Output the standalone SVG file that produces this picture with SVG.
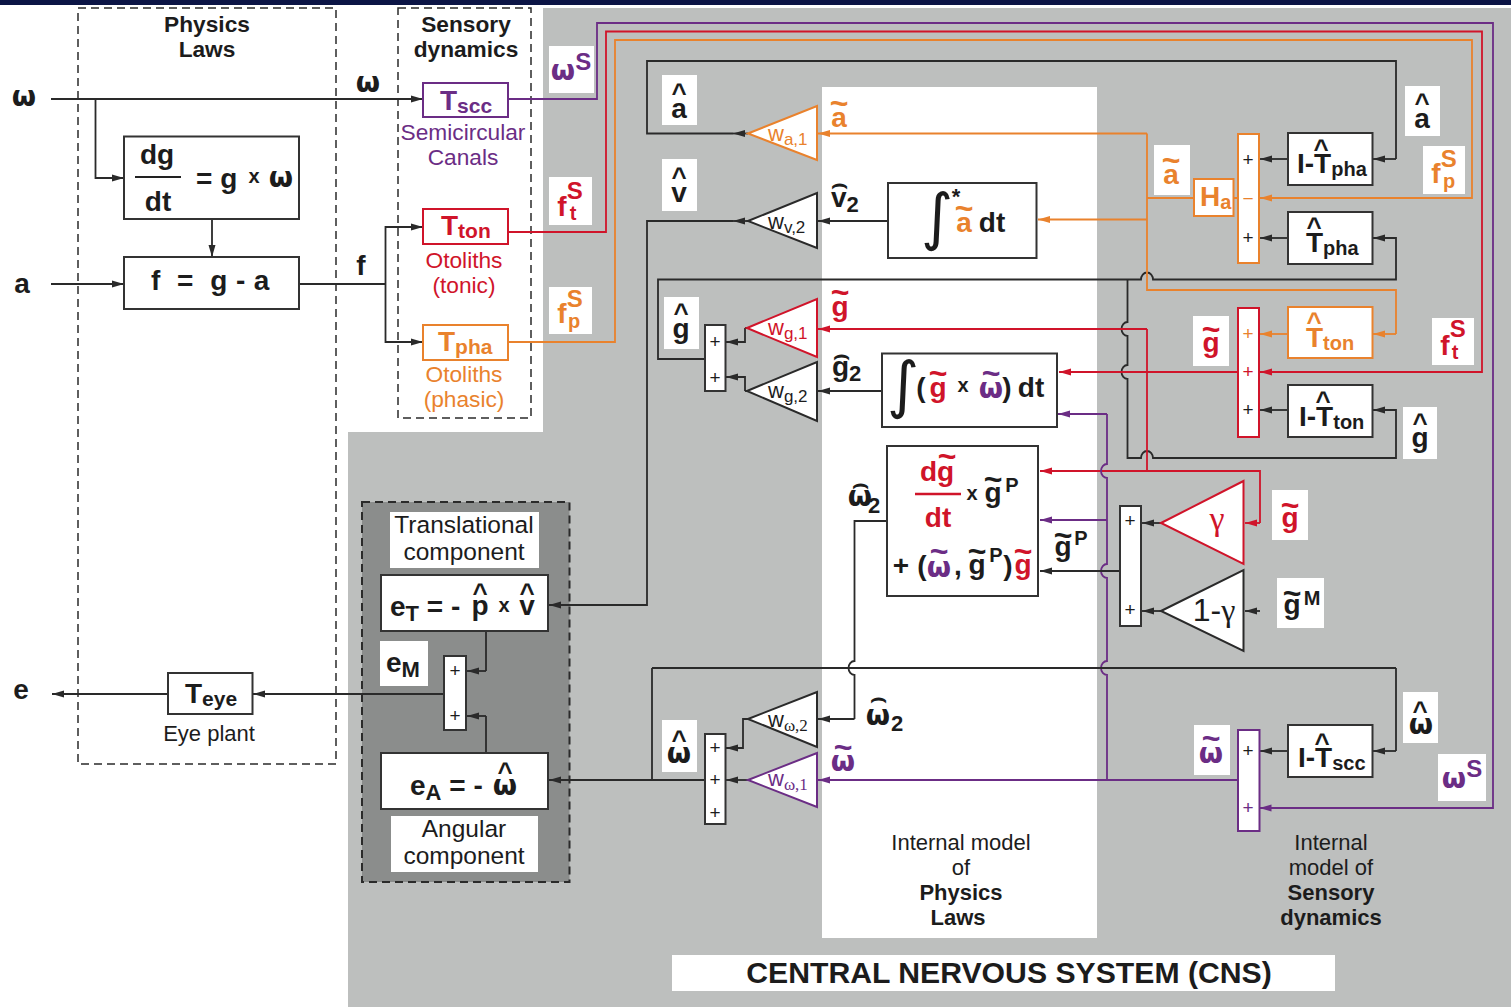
<svg xmlns="http://www.w3.org/2000/svg" width="1511" height="1007" viewBox="0 0 1511 1007">
<style>
text{font-family:"Liberation Sans",Arial,sans-serif;fill:#1c1c1c;text-anchor:middle}
.b{font-weight:700}
.t22{font-size:22.700px}.t20{font-size:20px}.x{font-size:20px;font-weight:700}
.lb{font-size:24.500px}.im{font-size:22px}
.m{font-size:28px;font-weight:700}
.l{text-anchor:start}
.h{font-size:26px;font-weight:700}
.a{font-size:28px;font-weight:700}
.n{font-size:22px;font-weight:700}
.tl{font-size:32px;font-weight:700}
.ch{font-family:"DejaVu Sans",sans-serif;font-size:26px;font-weight:700}
.w{font-family:"DejaVu Sans",sans-serif;font-size:28px;font-weight:700}
.s{font-size:22px}.ss{font-size:17px}.sf{font-size:17px;font-family:"Liberation Serif",serif}
.p{font-size:19px}
.int{font-family:"DejaVu Sans",sans-serif;font-size:62px}
.o{fill:#e9822d}.r{fill:#d0142a}.v{fill:#6b2d85}
.wl{fill:#fff;stroke:none}
.bx{fill:#fff;stroke:#333;stroke-width:2}
.bo{stroke:#e9822d}.br{stroke:#d0142a}.bv{stroke:#6b2d85}
.c{fill:none;stroke:#2a2a2a;stroke-width:1.800}
.co{stroke:#e9822d}.cr{stroke:#d0142a}.cv{stroke:#6b2d85}
.ak{marker-end:url(#ak)}.ao{marker-end:url(#ao)}.ar{marker-end:url(#ar)}.av{marker-end:url(#av)}
</style>
<defs>
<marker id="ak" markerUnits="userSpaceOnUse" markerWidth="13" markerHeight="10" refX="12" refY="5" orient="auto"><path d="M0 1.500L12 5L0 8.500z" fill="#2a2a2a"/></marker>
<marker id="ao" markerUnits="userSpaceOnUse" markerWidth="13" markerHeight="10" refX="12" refY="5" orient="auto"><path d="M0 1.500L12 5L0 8.500z" fill="#e9822d"/></marker>
<marker id="ar" markerUnits="userSpaceOnUse" markerWidth="13" markerHeight="10" refX="12" refY="5" orient="auto"><path d="M0 1.500L12 5L0 8.500z" fill="#d0142a"/></marker>
<marker id="av" markerUnits="userSpaceOnUse" markerWidth="13" markerHeight="10" refX="12" refY="5" orient="auto"><path d="M0 1.500L12 5L0 8.500z" fill="#6b2d85"/></marker>
</defs>
<g id="background">
<rect width="1511" height="1007" fill="#fff"/>
<rect width="1511" height="5" fill="#0b1445"/>
<path d="M543 8H1511V1007H348V432H543z" fill="#bdbfbe"/>
<rect x="822" y="87" width="275" height="851" fill="#fff"/>
<rect x="362" y="502" width="207.500" height="380" fill="#8b8d8c" stroke="#2a2a2a" stroke-width="2" stroke-dasharray="8 5"/>
<rect x="78" y="8" width="258" height="756" fill="none" stroke="#2a2a2a" stroke-width="1.500" stroke-dasharray="8 5"/>
<rect x="398" y="8" width="133" height="410" fill="none" stroke="#2a2a2a" stroke-width="1.500" stroke-dasharray="8 5"/>
</g>
<g id="labels-bg" class="wl">
<rect x="549" y="46" width="45" height="47"/><rect x="549" y="177" width="43" height="48"/><rect x="549" y="287" width="43" height="47"/>
<rect x="662" y="75" width="35" height="50"/><rect x="662" y="159" width="35" height="52"/><rect x="664" y="297" width="35" height="52"/>
<rect x="1154" y="145" width="36" height="50"/><rect x="1405" y="86" width="35" height="50"/><rect x="1423" y="146" width="42" height="48"/>
<rect x="1193" y="316" width="36" height="50"/><rect x="1432" y="318" width="42" height="47"/><rect x="1403" y="407" width="34" height="52"/>
<rect x="1272" y="490" width="36" height="50"/><rect x="1277" y="578" width="47" height="50"/>
<rect x="662" y="720" width="35" height="52"/><rect x="1194" y="725" width="36" height="50"/><rect x="1403" y="692" width="35" height="51"/><rect x="1438" y="754" width="48" height="47"/>
<rect x="390" y="512" width="149" height="56"/><rect x="380" y="641" width="48" height="45"/><rect x="391" y="816" width="147" height="56"/>
<rect x="672" y="955" width="663" height="36"/>
</g>
<g id="connectors" class="c">
<path class="ak" d="M51 99H423"/>
<path class="ak" d="M95.500 99V178H124"/>
<path class="ak" d="M212 219V257"/>
<path class="ak" d="M51 284H124"/>
<path d="M299 284H385.500"/>
<path class="ak" d="M385.500 284V227H423"/>
<path class="ak" d="M385.500 284V342H423"/>
<path class="c cv av" d="M508 99H597V23H1493V808H1259.500"/>
<path class="c cr ar" d="M508 232H606V31.500H1482V372H1260"/>
<path class="c co ao" d="M508 342H615V40H1472V198H1260"/>
<path class="ak" d="M748 133.500H733"/><path d="M733 133.500H647V61H1396V159"/><path class="ak" d="M1396 159H1373"/>
<path class="ak" d="M748 221H733"/><path class="ak" d="M733 221H647V605H549"/>
<path class="ak" d="M888 221H818"/>
<path class="ak" d="M882 391H818"/>
<path class="ak" d="M745 328V342H726"/><path d="M745 328H748"/>
<path class="ak" d="M745 391V377H726"/><path d="M745 391H748"/>
<path class="ak" d="M705 359H658V279.500H1141a6 7 0 0 1 12 0H1396V238H1373"/>
<path class="ak" d="M1127.500 279.500V322a6 7 0 0 0 0 14V365a6 7 0 0 0 0 14V458H1141a6 7 0 0 1 12 0H1396V410H1373"/>
<path class="c co ao" d="M1147 133.500H818"/>
<path class="c co" d="M1147 133.500V290H1396V334"/><path class="c co ao" d="M1396 334H1373"/>
<path class="c co ao" d="M1147 219.500H1038"/>
<path class="c co" d="M1147 198H1194M1233 198H1238"/>
<path class="ak" d="M1288 159H1260"/><path class="ak" d="M1288 238H1260"/>
<path class="c co ao" d="M1288 334H1260"/><path class="ak" d="M1288 410H1260"/>
<path class="c cr ar" d="M1147 329H818"/>
<path class="c cr" d="M1147 329V471"/>
<path class="c cr ar" d="M1238 372H1059"/>
<path class="c cr ar" d="M1113 471H1040"/>
<path class="c cr" d="M1113 471H1260V523"/><path class="c cr ar" d="M1260 523H1245"/>
<path class="c cv av" d="M1107 414H1058"/>
<path class="c cv" d="M1107 414V464a6 7 0 0 0 0 14V564a6 7 0 0 0 0 14V661a6 7 0 0 0 0 14V780"/>
<path class="c cv av" d="M1107 520H1040"/>
<path class="c cv av" d="M1238 780H818"/>
<path class="ak" d="M1161 523H1142"/><path class="ak" d="M1161 611H1142"/>
<path class="ak" d="M1120 571H1040"/>
<path class="ak" d="M1260 611H1245"/>
<path d="M1396 668H652"/>
<path d="M1396 668V751"/><path class="ak" d="M1396 751H1373"/><path class="ak" d="M1288 751H1260"/>
<path d="M652 668V780"/>
<path d="M887 521H854.500V661a6 7 0 0 0 0 14V719"/><path class="ak" d="M854.500 719H818"/>
<path class="ak" d="M748 719H743V748H726"/>
<path class="ak" d="M748 780H726"/>
<path class="ak" d="M705 780H549"/>
<path d="M486 631V671"/><path class="ak" d="M486 671H467"/>
<path d="M486 753V716"/><path class="ak" d="M486 716H467"/>
<path class="ak" d="M444 694H253"/><path class="ak" d="M168 694H52"/>
</g>
<g id="dgdt"><rect class="bx" x="124" y="136.500" width="175" height="82.500"/><text class="m" x="157" y="164">dg</text><path d="M135 177H181" stroke="#222" stroke-width="2"/><text class="m" x="158" y="211">dt</text><text class="m l" x="196" y="188">= g</text><text class="x" x="254" y="183">x</text><text class="w" x="281" y="187">ω</text></g>
<g id="fga"><rect class="bx" x="124" y="257" width="175" height="52"/><text class="m l" x="151" y="290" xml:space="preserve" letter-spacing=".4">f  =  g - a</text></g>
<g id="physics-title"><text class="b t22" x="207" y="32">Physics</text><text class="b t22" x="207" y="57">Laws</text></g>
<g id="sensory-title"><text class="b t22" x="466" y="32">Sensory</text><text class="b t22" x="466" y="57">dynamics</text></g>
<g id="inputs"><text class="w" x="24" y="106">ω</text><text class="m" x="22" y="293">a</text><text class="w" x="368" y="92">ω</text><text class="m" x="361" y="275">f</text><text class="m" x="21" y="699">e</text></g>
<g id="Tscc"><rect class="bx bv" x="423" y="83" width="85" height="34"/><text class="m v l" x="440" y="110">T<tspan font-size="21" dy="3">scc</tspan></text><text class="t22 v" x="463" y="140">Semicircular</text><text class="t22 v" x="463" y="165">Canals</text></g>
<g id="Tton"><rect class="bx br" x="423" y="209" width="85" height="35"/><text class="m r l" x="441" y="235">T<tspan font-size="21" dy="3">ton</tspan></text><text class="t22 r" x="464" y="268">Otoliths</text><text class="t22 r" x="464" y="293">(tonic)</text></g>
<g id="Tpha"><rect class="bx bo" x="423" y="325" width="85" height="35"/><text class="m o l" x="438" y="351">T<tspan font-size="21" dy="3">pha</tspan></text><text class="t22 o" x="464" y="382">Otoliths</text><text class="t22 o" x="464" y="407">(phasic)</text></g>
<g id="signal-labels">
<text class="w v" x="571" y="80">ω<tspan font-family="Liberation Sans" font-size="24" dy="-10">S</tspan></text>
<text class="m r" x="570" y="216">f<tspan font-size="24" dy="-17">S</tspan></text><text class="r x" x="573" y="220">t</text>
<text class="m o" x="570" y="323">f<tspan font-size="24" dy="-16">S</tspan></text><text class="o x" x="574" y="328">p</text>
<text class="h" x="679" y="102">^</text><text class="a" x="679" y="118">a</text>
<text class="h" x="679" y="186">^</text><text class="a" x="679" y="202">v</text>
<text class="h" x="681" y="322">^</text><text class="a" x="681" y="338">g</text>
<text class="tl o" x="839" y="113.500">~</text><text class="a o" x="839" y="127">a</text>
<text class="ch" x="839" y="192">⌢</text><text class="a l" x="831" y="207">v<tspan font-size="22" dy="5">2</tspan></text>
<text class="tl r" x="840" y="302.500">~</text><text class="a r" x="840" y="316">g</text>
<text class="ch" x="841" y="363">⌢</text><text class="a l" x="832" y="376">g<tspan font-size="22" dy="5">2</tspan></text>
<text class="tl o" x="1171" y="170.500">~</text><text class="a o" x="1171" y="184">a</text>
<text class="h" x="1422" y="112">^</text><text class="a" x="1422" y="128">a</text>
<text class="m o" x="1444" y="183">f<tspan font-size="24" dy="-16">S</tspan></text><text class="o x" x="1449" y="188">p</text>
<text class="tl r" x="1211" y="339.500">~</text><text class="a r" x="1211" y="352">g</text>
<text class="m r" x="1453" y="355">f<tspan font-size="24" dy="-18">S</tspan></text><text class="r x" x="1455" y="359">t</text>
<text class="h" x="1420" y="432">^</text><text class="a" x="1420" y="447">g</text>
<text class="tl r" x="1290" y="515.500">~</text><text class="a r" x="1290" y="527">g</text>
<text class="tl" x="1292" y="603.500">~</text><text class="a" x="1292" y="614">g</text><text class="x" x="1312" y="605">M</text>
<text class="tl" x="1063" y="545.500">~</text><text class="a" x="1063" y="556">g</text><text class="x" x="1081" y="545">P</text>
<text class="ch" x="860" y="492">⌢</text><text class="w" x="860" y="506">ω</text><text class="n l" x="868" y="513">2</text>
<text class="ch" x="878" y="706">⌢</text><text class="w" x="878" y="725">ω</text><text class="n l" x="891" y="731">2</text>
<text class="tl v" x="843" y="757.500">~</text><text class="w v" x="843" y="771">ω</text>
<text class="h" x="679" y="749">^</text><text class="w" x="679" y="763">ω</text>
<text class="tl v" x="1211" y="748.500">~</text><text class="w v" x="1211" y="763">ω</text>
<text class="h" x="1420" y="720">^</text><text class="w" x="1421" y="734">ω</text>
<text class="w v" x="1462" y="788">ω<tspan font-family="Liberation Sans" font-size="24" dy="-11">S</tspan></text>
</g>
<g id="wa1"><path d="M748 133.500L817 106V160z" fill="#fff" stroke="#e9822d" stroke-width="2"/><text class="s o l" x="768" y="141">w<tspan class="ss" dy="4">a,1</tspan></text></g>
<g id="wv2"><path d="M748 221L817 193V248z" fill="#fff" stroke="#2a2a2a" stroke-width="2"/><text class="s l" x="768" y="229">w<tspan class="ss" dy="4">v,2</tspan></text></g>
<g id="wg1"><path d="M747 328L817 299V357z" fill="#fff" stroke="#d0142a" stroke-width="2"/><text class="s r l" x="768" y="335">w<tspan class="ss" dy="4">g,1</tspan></text></g>
<g id="wg2"><path d="M747 391L817 362V421z" fill="#fff" stroke="#2a2a2a" stroke-width="2"/><text class="s l" x="768" y="398">w<tspan class="ss" dy="4">g,2</tspan></text></g>
<g id="wo2"><path d="M748 719L817 692V747z" fill="#fff" stroke="#2a2a2a" stroke-width="2"/><text class="s l" x="768" y="727">w<tspan class="sf" dy="4">ω,2</tspan></text></g>
<g id="wo1"><path d="M748 780L817 753V807z" fill="#fff" stroke="#6b2d85" stroke-width="2"/><text class="s v l" x="768" y="786">w<tspan class="sf" dy="4">ω,1</tspan></text></g>
<g id="gamma"><path d="M1161 523L1243.500 481V564z" fill="#fff" stroke="#d0142a" stroke-width="2"/><text class="r" font-size="34" x="1217" y="530" style="font-family:'Liberation Serif',serif">γ</text></g>
<g id="one-gamma"><path d="M1161 611L1243.500 570V651z" fill="#fff" stroke="#2a2a2a" stroke-width="2"/><text font-size="32" x="1214" y="621">1-<tspan style="font-family:'Liberation Serif',serif">γ</tspan></text></g>
<g id="sum-g"><rect class="bx" x="705" y="325" width="20.500" height="66"/><text class="p" x="715" y="348">+</text><text class="p" x="715" y="384">+</text></g>
<g id="sum-o"><rect class="bx" x="705" y="734" width="20.500" height="90"/><text class="p" x="715" y="754">+</text><text class="p" x="715" y="786">+</text><text class="p" x="715" y="819">+</text></g>
<g id="sum-m"><rect class="bx" x="444" y="656" width="22" height="74"/><text class="p" x="455" y="677">+</text><text class="p" x="455" y="722">+</text></g>
<g id="sum-p"><rect class="bx" x="1120" y="506" width="21" height="120"/><text class="p" x="1130" y="527">+</text><text class="p" x="1130" y="616">+</text></g>
<g id="sum-a"><rect class="bx bo" x="1238" y="134" width="21" height="129"/><text class="p" x="1248" y="166">+</text><text class="p o" x="1248" y="205">−</text><text class="p" x="1248" y="244">+</text></g>
<g id="sum-r"><rect class="bx br" x="1238" y="308" width="21" height="129"/><text class="p o" x="1248" y="340">+</text><text class="p r" x="1248" y="378">+</text><text class="p" x="1248" y="416">+</text></g>
<g id="sum-s"><rect class="bx bv" x="1238" y="730" width="21.500" height="101"/><text class="p" x="1248" y="757">+</text><text class="p v" x="1248" y="814">+</text></g>
<g id="Ha"><rect class="bx bo" x="1194" y="179" width="39.500" height="37"/><text class="a o l" x="1200" y="206">H<tspan font-size="20" dy="3">a</tspan></text></g>
<g id="ITpha"><rect class="bx" x="1288" y="133" width="84.500" height="52"/><text class="h" x="1321" y="158">^</text><text class="a l" x="1297" y="173">I-T<tspan font-size="20" dy="3">pha</tspan></text></g>
<g id="That-pha"><rect class="bx" x="1288" y="212" width="84.500" height="52"/><text class="h" x="1314" y="236">^</text><text class="a l" x="1306" y="252">T<tspan font-size="20" dy="3">pha</tspan></text></g>
<g id="That-ton"><rect class="bx bo" x="1288" y="307" width="84.500" height="51"/><text class="h o" x="1314" y="331">^</text><text class="a o l" x="1306" y="347">T<tspan font-size="20" dy="3">ton</tspan></text></g>
<g id="ITton"><rect class="bx" x="1288" y="385" width="84.500" height="52"/><text class="h" x="1323" y="410">^</text><text class="a l" x="1299" y="426">I-T<tspan font-size="20" dy="3">ton</tspan></text></g>
<g id="ITscc"><rect class="bx" x="1288" y="725" width="84.500" height="52"/><text class="h" x="1322" y="752">^</text><text class="a l" x="1298" y="767">I-T<tspan font-size="20" dy="3">scc</tspan></text></g>
<g id="int-a"><rect class="bx" x="888" y="183" width="148.500" height="75"/><text class="int" x="937" y="238">∫</text><text font-size="22" class="b" x="956" y="204">*</text><text class="tl o" x="964" y="218.500">~</text><text class="a o" x="964" y="232">a</text><text class="m" x="992" y="232">dt</text></g>
<g id="int-g"><rect class="bx" x="882" y="353.500" width="175" height="73.500"/><text class="int" x="903" y="406">∫</text><text class="m" x="921" y="397">(</text><text class="tl r" x="938" y="383.500">~</text><text class="a r" x="938" y="397">g</text><text class="x" x="963" y="392">x</text><text class="tl v" x="991" y="383.500">~</text><text class="w v" x="991" y="398">ω</text><text class="m" x="1007" y="397">)</text><text class="m" x="1031" y="397">dt</text></g>
<g id="dyn"><rect class="bx" x="887" y="446" width="151" height="150"/><text class="a r" x="937" y="481">dg</text><text class="tl r" x="947" y="466.500">~</text><path d="M915 494H961" stroke="#d0142a" stroke-width="2.500"/><text class="a r" x="938" y="527">dt</text><text class="x" x="972" y="500">x</text><text class="tl" x="993" y="489.500">~</text><text class="a" x="993" y="502">g</text><text class="x" x="1012" y="492">P</text>
<text class="m" x="901" y="575">+</text><text class="m" x="922" y="575">(</text><text class="tl v" x="939" y="561.500">~</text><text class="w v" x="939" y="577">ω</text><text class="m" x="958" y="575">,</text><text class="tl" x="977" y="561.500">~</text><text class="a" x="977" y="574">g</text><text class="x" x="996" y="562">P</text><text class="m" x="1008" y="575">)</text><text class="tl r" x="1023" y="561.500">~</text><text class="a r" x="1023" y="574">g</text></g>
<g id="Teye"><rect class="bx" x="168" y="673" width="84.500" height="41"/><text class="m l" x="185" y="703">T<tspan font-size="21" dy="3">eye</tspan></text><text class="im" x="209" y="741">Eye plant</text></g>
<g id="eT"><rect class="bx" x="381" y="575" width="167" height="56"/><text class="m l" x="390" y="616">e<tspan font-size="22" dy="5">T</tspan><tspan dy="-5"> = -</tspan></text><text class="h" x="480" y="602">^</text><text class="a" x="480" y="615">p</text><text class="x" x="504" y="612">x</text><text class="h" x="527" y="602">^</text><text class="a" x="527" y="615">v</text></g>
<g id="eA"><rect class="bx" x="381" y="753" width="167" height="56"/><text class="m l" x="410" y="795">e<tspan font-size="22" dy="5">A</tspan><tspan dy="-5"> = -</tspan></text><text class="h" x="505" y="781">^</text><text class="w" x="505" y="795">ω</text></g>
<g id="eM"><text class="m l" x="386" y="672">e<tspan font-size="22" dy="5">M</tspan></text></g>
<g id="component-labels"><text class="lb" x="464" y="533">Translational</text><text class="lb" x="464" y="560">component</text><text class="lb" x="464" y="837">Angular</text><text class="lb" x="464" y="864">component</text></g>
<g id="model-labels"><text class="im" x="961" y="850">Internal model</text><text class="im" x="961" y="875">of</text><text class="im b" x="961" y="900">Physics</text><text class="im b" x="958" y="925">Laws</text>
<text class="im" x="1331" y="850">Internal</text><text class="im" x="1331" y="875">model of</text><text class="im b" x="1331" y="900">Sensory</text><text class="im b" x="1331" y="925">dynamics</text></g>
<g id="title"><text class="b" font-size="30.200" x="1009" y="983">CENTRAL NERVOUS SYSTEM (CNS)</text></g>
</svg>
